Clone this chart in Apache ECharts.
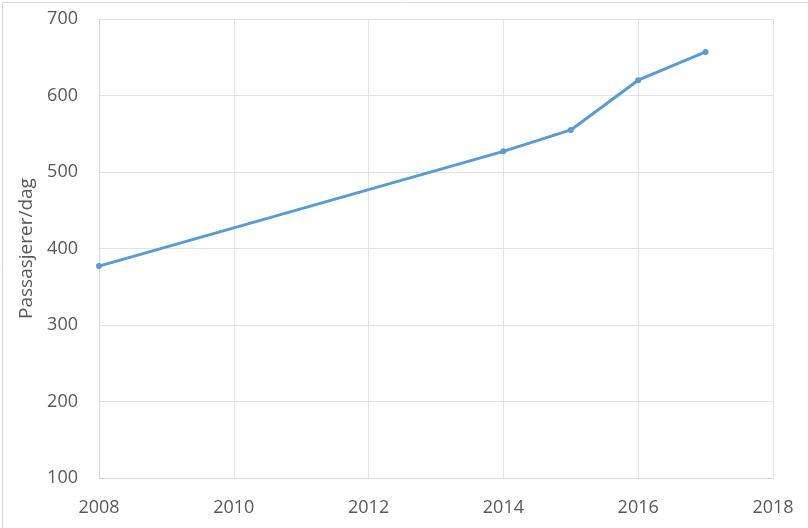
<!DOCTYPE html>
<html>
<head>
<meta charset="utf-8">
<script src="https://cdn.jsdelivr.net/npm/echarts@6/dist/echarts.min.js"></script>
<style>
html,body{margin:0;padding:0;background:#fff;}
#main{width:808px;height:528px;}
</style>
</head>
<body>
<div id="main"></div>
<script>
var years = [2008, 2014, 2015, 2016, 2017];
var passengers = [377, 527, 555, 620, 657];
var yAxisTitle = 'Passasjerer/dag';

var chart = echarts.init(document.getElementById('main'), null, {renderer: 'canvas'});
var font = 'Open Sans, Liberation Sans, sans-serif';
chart.setOption({
  animation: false,
  backgroundColor: '#fff',
  graphic: [{
    type: 'rect', left: 0, top: 0,
    shape: {x: 0.5, y: 0.5, width: 807, height: 527},
    style: {fill: 'none', stroke: '#d9d9d9', lineWidth: 1},
    silent: true
  }],
  grid: {left: 99, right: 35, top: 19, bottom: 50, containLabel: false},
  xAxis: {
    type: 'value', min: 2008, max: 2018, interval: 2,
    axisLine: {show: true, lineStyle: {color: '#d9d9d9', width: 1}},
    axisTick: {show: false},
    splitLine: {show: true, lineStyle: {color: '#e3e3e3', width: 1}},
    axisLabel: {color: '#595959', fontSize: 18, fontFamily: font, margin: 21, formatter: function(v){return String(v);}}
  },
  yAxis: {
    type: 'value', min: 100, max: 700, interval: 100,
    name: yAxisTitle, nameLocation: 'middle', nameGap: 53,
    nameTextStyle: {color: '#595959', fontSize: 19, fontFamily: font},
    axisLine: {show: true, lineStyle: {color: '#d9d9d9', width: 1}},
    axisTick: {show: false},
    splitLine: {show: true, lineStyle: {color: '#e3e3e3', width: 1}},
    axisLabel: {color: '#595959', fontSize: 18, fontFamily: font, margin: 21}
  },
  series: [{
    type: 'line',
    data: years.map(function(y, i){ return [y, passengers[i]]; }),
    lineStyle: {color: '#5b9bd5', width: 3},
    itemStyle: {color: '#5b9bd5'},
    symbol: 'circle', symbolSize: 6,
    showSymbol: true
  }]
});
</script>
</body>
</html>
